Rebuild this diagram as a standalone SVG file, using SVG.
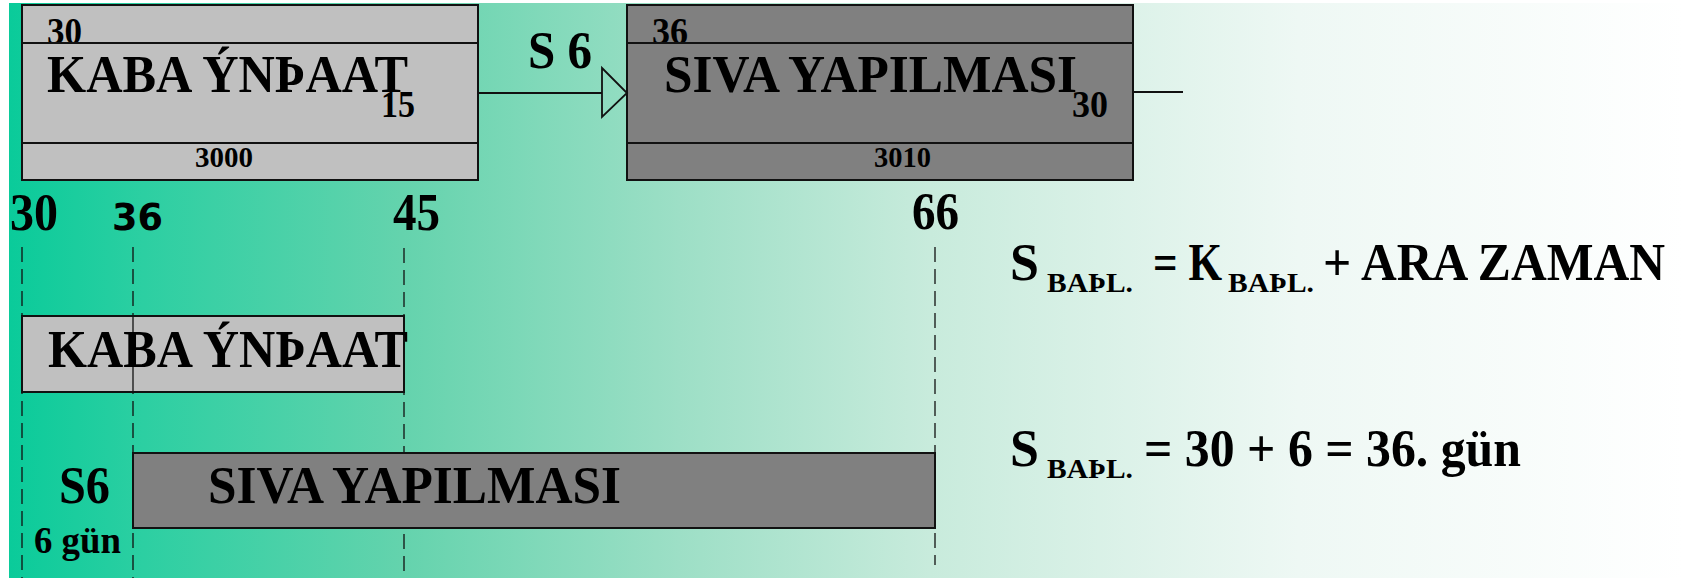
<svg xmlns="http://www.w3.org/2000/svg" width="1684" height="578" viewBox="0 0 1684 578">
<defs>
<linearGradient id="bg" x1="9" y1="0" x2="1684" y2="0" gradientUnits="userSpaceOnUse">
<stop offset="0" stop-color="#0acb9a"/>
<stop offset="0.08" stop-color="#2ccfa2"/>
<stop offset="0.235" stop-color="#64d3ad"/>
<stop offset="0.4" stop-color="#9ddfc6"/>
<stop offset="0.55" stop-color="#c8ebdc"/>
<stop offset="0.77" stop-color="#eef8f4"/>
<stop offset="1" stop-color="#ffffff"/>
</linearGradient>
<style>
text{font-family:"Liberation Serif","Times New Roman",serif;font-weight:bold;fill:#000}
.big{font-size:52px}
.mid{font-size:37px}
.sm{font-size:29px}
.sub{font-size:28px}
.sans{font-family:"DejaVu Sans",sans-serif;font-size:37px}
.box{stroke:#111;stroke-width:2}
.light{fill:#c0c0c0}
.dark{fill:#808080}
.div{stroke:#111;stroke-width:2}
.dash{stroke:#111;stroke-width:1.3;stroke-dasharray:15 7;fill:none}
.conn{stroke:#111;stroke-width:1.8;fill:none}
</style>
</defs>
<rect x="0" y="0" width="1684" height="578" fill="#ffffff"/>
<rect x="9" y="3" width="1675" height="575" fill="url(#bg)"/>

<g id="guides">
<line class="dash" x1="22" y1="247" x2="22" y2="578"/>
<line class="dash" x1="133" y1="247" x2="133" y2="578"/>
<line class="dash" x1="404" y1="248" x2="404" y2="578"/>
<line class="dash" x1="935" y1="247" x2="935" y2="565"/>
</g>

<g id="node-kaba">
<rect class="box light" x="22" y="5" width="456" height="175"/>
<text class="mid" x="47" y="44" textLength="35" lengthAdjust="spacingAndGlyphs">30</text>
<line class="div" x1="22" y1="43" x2="478" y2="43"/>
<line class="div" x1="22" y1="143" x2="478" y2="143"/>
<text class="big" x="47" y="92" textLength="361" lengthAdjust="spacingAndGlyphs">KABA ÝNÞAAT</text>
<text class="mid" x="381" y="117" textLength="34" lengthAdjust="spacingAndGlyphs">15</text>
<text class="sm" x="195" y="167" textLength="58" lengthAdjust="spacingAndGlyphs">3000</text>
</g>

<g id="node-siva">
<rect class="box dark" x="627" y="5" width="506" height="175"/>
<text class="mid" x="652" y="44" textLength="36" lengthAdjust="spacingAndGlyphs">36</text>
<line class="div" x1="627" y1="43" x2="1133" y2="43"/>
<line class="div" x1="627" y1="143" x2="1133" y2="143"/>
<text class="big" x="664" y="92" textLength="413" lengthAdjust="spacingAndGlyphs">SIVA YAPILMASI</text>
<text class="mid" x="1072" y="117" textLength="36" lengthAdjust="spacingAndGlyphs">30</text>
<text class="sm" x="874" y="167" textLength="57" lengthAdjust="spacingAndGlyphs">3010</text>
</g>

<g id="connectors">
<line class="conn" x1="478" y1="93" x2="602" y2="93"/>
<polygon class="conn" points="602,68 627,93 602,117"/>
<line class="conn" x1="1133" y1="92" x2="1183" y2="92"/>
<text class="big" x="528" y="68" textLength="64" lengthAdjust="spacingAndGlyphs">S 6</text>
</g>

<g id="scale">
<text class="big" x="10" y="230" textLength="48" lengthAdjust="spacingAndGlyphs">30</text>
<text class="sans" x="112" y="230" textLength="51" lengthAdjust="spacingAndGlyphs">36</text>
<text class="big" x="393" y="230" textLength="47" lengthAdjust="spacingAndGlyphs">45</text>
<text class="big" x="912" y="229" textLength="47" lengthAdjust="spacingAndGlyphs">66</text>
</g>

<g id="bar-kaba">
<rect class="box light" x="22" y="316" width="382" height="76"/>
<line stroke="#111" stroke-width="1.3" x1="133" y1="316" x2="133" y2="392"/>
<text class="big" x="48" y="367" textLength="360" lengthAdjust="spacingAndGlyphs">KABA ÝNÞAAT</text>
</g>

<g id="bar-siva">
<rect class="box dark" x="133" y="453" width="802" height="75"/>
<text class="big" x="208" y="503" textLength="413" lengthAdjust="spacingAndGlyphs">SIVA YAPILMASI</text>
</g>

<g id="lag">
<text class="big" x="59" y="503" textLength="51" lengthAdjust="spacingAndGlyphs">S6</text>
<text class="mid" x="34" y="553" textLength="87" lengthAdjust="spacingAndGlyphs">6 gün</text>
</g>

<g id="formula1">
<text class="big" x="1010" y="280">S</text>
<text class="sub" x="1047" y="292" textLength="86" lengthAdjust="spacingAndGlyphs">BAÞL.</text>
<text class="big" x="1153" y="280" textLength="69" lengthAdjust="spacingAndGlyphs">= K</text>
<text class="sub" x="1228" y="292" textLength="86" lengthAdjust="spacingAndGlyphs">BAÞL.</text>
<text class="big" x="1323" y="280" textLength="342" lengthAdjust="spacingAndGlyphs">+ ARA ZAMAN</text>
</g>

<g id="formula2">
<text class="big" x="1010" y="466">S</text>
<text class="sub" x="1047" y="478" textLength="86" lengthAdjust="spacingAndGlyphs">BAÞL.</text>
<text class="big" x="1144" y="466" textLength="377" lengthAdjust="spacingAndGlyphs">= 30 + 6 = 36. gün</text>
</g>
</svg>
